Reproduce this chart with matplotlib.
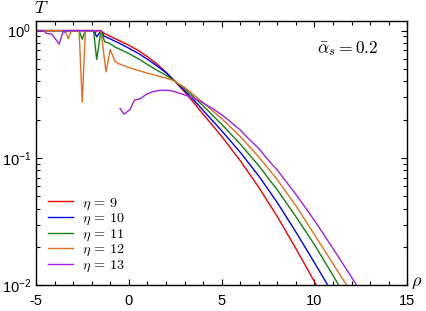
import numpy as np
import matplotlib
matplotlib.use('Agg')
import matplotlib.pyplot as plt

plt.rcParams['font.family'] = ['Liberation Sans', 'DejaVu Sans']
plt.rcParams['mathtext.fontset'] = 'cm'
plt.rcParams['axes.unicode_minus'] = False

# T(rho), one pair of lists per eta
rho_9 = [-5, -1.9, -1.8, -1.7, -1.5, -1.34, -1.0, -0.5, 0.0, 0.5, 1.0, 1.5, 2.0, 2.4,
         3.0, 3.5, 4.0, 5.0, 6.0, 7.0, 8.0, 9.0, 10.0, 10.5]
T_9 = [1, 1, 0.968, 1, 1, 0.955, 0.902, 0.832, 0.767, 0.700, 0.624, 0.550, 0.473, 0.412,
       0.331, 0.272, 0.221, 0.148, 0.0955, 0.0589, 0.0347, 0.0195, 0.0107, 0.0079]

rho_10 = [-5, -3.6, -3.45, -3.3, -1.9, -1.73, -1.5, -1.34, -1.0, -0.5, 0.0, 0.5, 1.0, 1.5, 2.0, 2.4,
          3.0, 3.5, 4.0, 5.0, 6.0, 7.0, 8.0, 9.0, 10.0, 11.1]
T_10 = [1, 1, 0.973, 1, 1, 0.894, 1, 0.906, 0.861, 0.794, 0.728, 0.664, 0.596, 0.531, 0.468, 0.412,
        0.339, 0.285, 0.237, 0.164, 0.111, 0.0724, 0.0447, 0.0263, 0.0151, 0.0081]

rho_11 = [-5, -2.68, -2.51, -2.34, -1.9, -1.73, -1.5, -1.3, -1.03, -0.76, -0.5, 0.0, 0.5, 1.0, 1.5,
          2.0, 2.4, 3.0, 3.5, 4.0, 5.0, 6.0, 7.0, 8.0, 9.0, 10.0, 11.0, 11.6]
T_11 = [1, 1, 0.857, 1, 1, 0.594, 1, 0.817, 0.794, 0.746, 0.716, 0.661, 0.603, 0.543, 0.490,
        0.447, 0.409, 0.351, 0.301, 0.257, 0.184, 0.129, 0.0871, 0.0562, 0.0347, 0.0209, 0.0120, 0.0085]

rho_12 = [-5, -3.43, -3.26, -3.09, -2.68, -2.51, -2.34, -1.5, -1.23, -1.0, -0.74, -0.49, 0.05, 1.03,
          1.93, 2.4, 3.0, 3.5, 3.83, 4.0, 5.0, 6.0, 7.0, 8.0, 9.0, 10.0, 11.0, 12.1]
T_12 = [1, 1, 0.865, 1, 1, 0.275, 1, 1, 0.475, 0.712, 0.569, 0.546, 0.511, 0.462,
        0.427, 0.406, 0.359, 0.313, 0.285, 0.272, 0.204, 0.148, 0.102, 0.0676, 0.0422, 0.0251, 0.0148, 0.0083]

# eta = 13 has a gap between the two pieces
rho_13 = [-5, -4.61, -4.42, -4.15, -3.75, -3.53, -1.5, np.nan,
          -0.47, -0.26, 0.07, 0.30, 0.61, 0.97, 1.3, 1.68, 2.0, 2.31, 2.75, 3.29, 3.83, 4.5, 5.0,
          5.45, 6.0, 6.47, 7.0, 7.42, 8.0, 9.0, 9.39, 10.0, 11.0, 12.0, 12.6]
T_13 = [1, 1, 0.95, 0.939, 0.784, 1, 1, np.nan,
        0.245, 0.221, 0.241, 0.285, 0.292, 0.318, 0.332, 0.340, 0.341, 0.337, 0.322, 0.303, 0.280, 0.245, 0.219,
        0.194, 0.166, 0.141, 0.119, 0.100, 0.0804, 0.0519, 0.0432, 0.0324, 0.0195, 0.0116, 0.0085]

etas = [9, 10, 11, 12, 13]
colors = ['#ee0000', '#0000ee', '#118011', '#e07020', '#a020e6']
curves = [(rho_9, T_9), (rho_10, T_10), (rho_11, T_11), (rho_12, T_12), (rho_13, T_13)]

fig = plt.figure(figsize=(4.26, 3.11), dpi=100)
ax = fig.add_axes([0.0845, 0.082, 0.8715, 0.852])

for (r, t), eta, c in zip(curves, etas, colors):
    ax.plot(r, t, color=c, lw=1.0, label=r'$\eta\,=\,%d$' % eta)

ax.set_yscale('log')
ax.set_xlim(-5, 15)
ax.set_ylim(0.01, 1.2)
ax.set_xticks([-5, 0, 5, 10, 15])
ax.set_xticks(np.arange(-5, 16, 1), minor=True)
ax.tick_params(which='both', direction='in', top=True, right=True, labelsize=10.5)
ax.tick_params(which='major', length=4.5, width=0.8)
ax.tick_params(which='minor', length=3, width=0.8)
ax.tick_params(axis='x', pad=6)
for s in ax.spines.values():
    s.set_linewidth(1.0)

fig.text(0.097, 0.974, r'$T$', fontsize=13, ha='center', va='center')
fig.text(0.979, 0.093, r'$\rho$', fontsize=13, ha='center', va='center')
ax.text(0.84, 0.895, r'$\bar{\alpha}_s = 0.2$', transform=ax.transAxes,
        fontsize=12.5, ha='center', va='center')

ax.legend(loc='lower left', bbox_to_anchor=(0.006, 0.006), frameon=False, fontsize=10.2,
          handlelength=1.75, handletextpad=0.62, labelspacing=-0.04, borderpad=0.2)

plt.savefig('out.png', dpi=100)
